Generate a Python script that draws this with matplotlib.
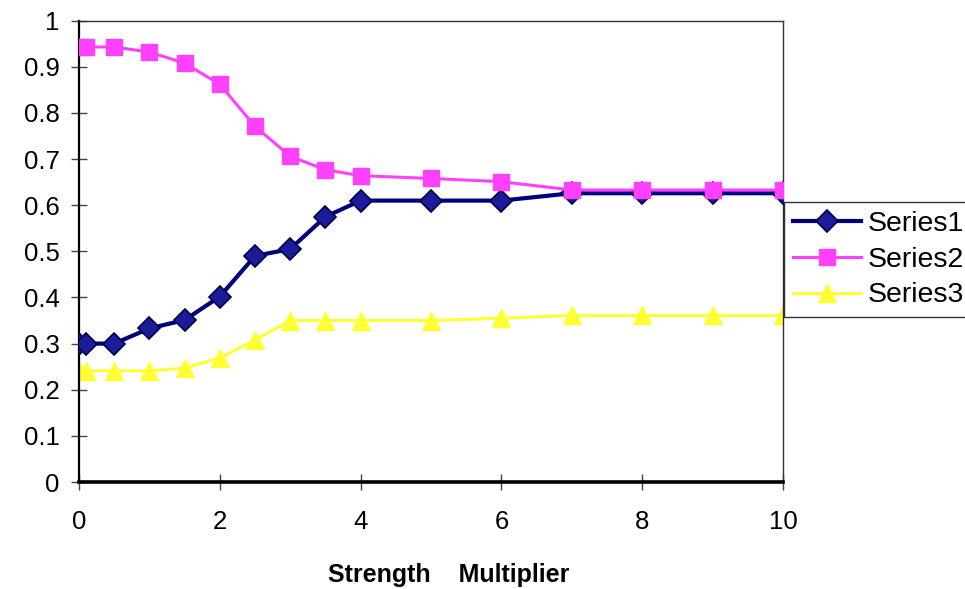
import matplotlib
matplotlib.use("Agg")
import matplotlib.pyplot as plt

plt.rcParams['font.family'] = ['Liberation Sans', 'DejaVu Sans']

x = [0, 0.1, 0.5, 1, 1.5, 2, 2.5, 3, 3.5, 4, 5, 6, 7, 8, 9, 10]
series1 = [0.30, 0.30, 0.30, 0.333, 0.351, 0.402, 0.49, 0.505, 0.575, 0.61, 0.61, 0.61, 0.626, 0.626, 0.626, 0.626]
series2 = [0.943, 0.943, 0.943, 0.932, 0.908, 0.862, 0.771, 0.706, 0.677, 0.664, 0.658, 0.651, 0.633, 0.633, 0.633, 0.633]
series3 = [0.241, 0.241, 0.241, 0.241, 0.247, 0.269, 0.308, 0.35, 0.35, 0.35, 0.35, 0.355, 0.361, 0.361, 0.361, 0.361]
labels = ["Series1", "Series2", "Series3"]
xticks = [0, 2, 4, 6, 8, 10]
xticklabels = ["0", "2", "4", "6", "8", "10"]
yticks = [0, 0.1, 0.2, 0.3, 0.4, 0.5, 0.6, 0.7, 0.8, 0.9, 1.0]
yticklabels = ["0", "0.1", "0.2", "0.3", "0.4", "0.5", "0.6", "0.7", "0.8", "0.9", "1"]
xlabel = "Strength    Multiplier"

fig = plt.figure(figsize=(9.65, 5.89), dpi=100)
ax = fig.add_axes([79/965, 1-482/589, (783-79)/965, (482-20.7)/589])

ax.plot(x, series1, color='#000080', lw=3, marker='D', ms=11, mfc='#1c1c9a', mec='#000050', mew=1.2,
        label=labels[0], zorder=3)
ax.plot(x, series2, color='#FF40FF', lw=2.2, marker='s', ms=12, mfc='#FF40FF', mec='#FF40FF',
        label=labels[1], zorder=4)
ax.plot(x, series3, color='#FFFF33', lw=2.2, marker='^', ms=13.5, mfc='#FFFF33', mec='#FFFF33',
        label=labels[2], zorder=2)

ax.set_xlim(0, 10)
ax.set_ylim(0, 1)
ax.set_xticks(xticks)
ax.set_xticklabels(xticklabels)
ax.set_yticks(yticks)
ax.set_yticklabels(yticklabels)
ax.tick_params(axis='both', direction='inout', length=12, width=1, color='#444444', labelsize=18.5)
ax.tick_params(axis='x', pad=14)
ax.tick_params(axis='y', pad=8)

for s in ['top', 'right']:
    ax.spines[s].set_linewidth(1)
    ax.spines[s].set_color('#333333')
ax.spines['left'].set_linewidth(1.6)
ax.spines['bottom'].set_linewidth(2.6)
for s in ['left', 'bottom']:
    ax.spines[s].set_color('black')

ax.set_xlabel(xlabel, fontsize=18, fontweight='bold')
ax.xaxis.set_label_coords(0.525, -0.175)

leg = fig.legend(loc='upper left', bbox_to_anchor=(784/965, 1-202/589), bbox_transform=fig.transFigure,
                 fontsize=20.5, frameon=True, fancybox=False, borderaxespad=0, borderpad=0.3,
                 handlelength=2.4, handletextpad=0.25, labelspacing=0.35)
leg.get_frame().set_edgecolor('black')
leg.get_frame().set_linewidth(1)
leg.set_zorder(10)

fig.savefig("out.png", dpi=100)
